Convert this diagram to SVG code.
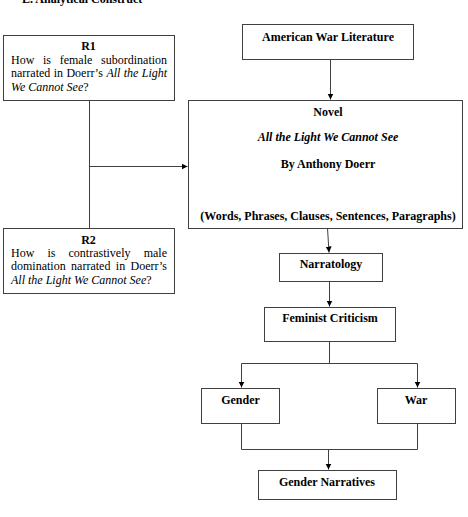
<svg xmlns="http://www.w3.org/2000/svg" width="468" height="517" viewBox="0 0 468 517">
  <style>
    text { font-family: "Liberation Serif", "Times New Roman", serif; font-size: 12px; fill: #000; }
    .b { font-weight: bold; }
    .i { font-style: italic; }
    .mid { text-anchor: middle; }
    .box { fill: #fff; stroke: #404040; stroke-width: 1; }
    .wire { fill: none; stroke: #404040; stroke-width: 1; }
  </style>
  <defs>
    <marker id="arrow" markerWidth="7" markerHeight="7" refX="6" refY="3" orient="auto" markerUnits="userSpaceOnUse">
      <path d="M0,0 L6,3 L0,6 Z" fill="#000"/>
    </marker>
  </defs>
  <rect width="468" height="517" fill="#fff"/>

  <text class="b" x="22" y="3">E.  Analytical Construct</text>

  <g id="connectors">
    <!-- R1 and R2 join and point at the novel -->
    <path class="wire" d="M89.5,100.5 V228"/>
    <path class="wire" d="M89.5,166.5 H187.5" marker-end="url(#arrow)"/>
    <path class="wire" d="M330.5,59 V99.5" marker-end="url(#arrow)"/>
    <path class="wire" d="M327.5,228 L329,252.5" marker-end="url(#arrow)"/>
    <path class="wire" d="M329.5,281 V306.5" marker-end="url(#arrow)"/>
    <path class="wire" d="M329.5,341 V363.5 M241.5,363.5 H417.5"/>
    <path class="wire" d="M241.5,363.5 V387.5" marker-end="url(#arrow)"/>
    <path class="wire" d="M417.5,363.5 V387.5" marker-end="url(#arrow)"/>
    <path class="wire" d="M241.5,424 V449.5 H417.5 V424"/>
    <path class="wire" d="M328.5,449.5 V469.5" marker-end="url(#arrow)"/>
  </g>

  <g id="r1">
    <rect class="box" x="3.5" y="35.5" width="171" height="65"/>
    <text class="b mid" x="88.5" y="50">R1</text>
    <text y="63.5"><tspan x="11">How</tspan><tspan x="43">is</tspan><tspan x="59.7">female</tspan><tspan x="101.1">subordination</tspan></text>
    <text y="77"><tspan x="11">narrated</tspan><tspan x="53.7">in</tspan><tspan x="66.4">Doerr’s</tspan><tspan class="i" x="106.4">All</tspan><tspan class="i" x="123.7">the</tspan><tspan class="i" x="141.8">Light</tspan></text>
    <text x="11" y="90.5"><tspan class="i">We Cannot See</tspan>?</text>
  </g>

  <g id="r2">
    <rect class="box" x="3.5" y="228.5" width="171" height="65"/>
    <text class="b mid" x="88.5" y="243.5">R2</text>
    <text y="257"><tspan x="11">How</tspan><tspan x="47.4">is</tspan><tspan x="68.5">contrastively</tspan><tspan x="143.7">male</tspan></text>
    <text y="270.3"><tspan x="11">domination</tspan><tspan x="71.1">narrated</tspan><tspan x="115.8">in</tspan><tspan x="130.5">Doerr’s</tspan></text>
    <text x="11" y="283.7"><tspan class="i">All the Light We Cannot See</tspan>?</text>
  </g>

  <g id="american-war-literature">
    <rect class="box" x="242.5" y="24.5" width="171" height="35"/>
    <text class="b mid" x="328" y="40.5">American War Literature</text>
  </g>

  <g id="novel">
    <rect class="box" x="188.5" y="100.5" width="274" height="128"/>
    <text class="b mid" x="328" y="116">Novel</text>
    <text class="b i mid" x="328" y="141">All the Light We Cannot See</text>
    <text class="b mid" x="328" y="168">By Anthony Doerr</text>
    <text class="b mid" x="328" y="220">(Words, Phrases, Clauses, Sentences, Paragraphs)</text>
  </g>

  <g id="narratology">
    <rect class="box" x="279.5" y="253.5" width="103" height="28"/>
    <text class="b mid" x="331" y="268">Narratology</text>
  </g>

  <g id="feminist-criticism">
    <rect class="box" x="264.5" y="307.5" width="131" height="34"/>
    <text class="b mid" x="330" y="322">Feminist Criticism</text>
  </g>

  <g id="gender">
    <rect class="box" x="201.5" y="388.5" width="78" height="35"/>
    <text class="b mid" x="240.5" y="404">Gender</text>
  </g>

  <g id="war">
    <rect class="box" x="377.5" y="388.5" width="78" height="35"/>
    <text class="b mid" x="416" y="404">War</text>
  </g>

  <g id="gender-narratives">
    <rect class="box" x="258.5" y="470.5" width="138" height="29"/>
    <text class="b mid" x="327" y="486">Gender Narratives</text>
  </g>
</svg>
